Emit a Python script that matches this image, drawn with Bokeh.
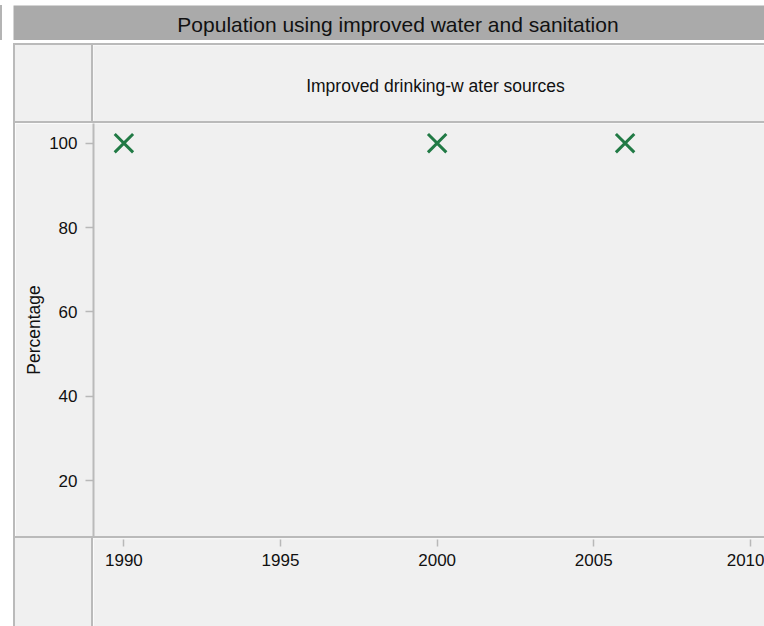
from bokeh.plotting import figure
from bokeh.layouts import column, row
from bokeh.models import Div, Spacer, FixedTicker, Range1d
from bokeh.core.properties import value
from bokeh.embed import file_html
from bokeh.resources import INLINE

main_title = "Population using improved water and sanitation"
panel_title = "Improved drinking-w ater sources"
y_label = "Percentage"
years = [1990, 2000, 2006]
values = [100, 100, 100]
x_ticks = [1990, 1995, 2000, 2005, 2010]
y_ticks = [20, 40, 60, 80, 100]

FONT = "Liberation Sans"
LINE = "#bababa"
PANEL = "#f0f0f0"
BAR = "#aaaaaa"
INK = "#111111"

x_range = Range1d(1989.03, 2010.45)


def block(w, h, color):
    return Div(text="", width=w, height=h, margin=0,
               styles={"background-color": color})


def text_fig(w, h, bg, txt, tx, ty, size):
    f = figure(width=w, height=h, output_backend="svg", toolbar_location=None,
               x_range=Range1d(0, w), y_range=Range1d(h, 0),
               x_axis_location=None, y_axis_location=None,
               min_border=0, margin=0)
    f.outline_line_color = None
    f.background_fill_color = bg
    f.border_fill_color = bg
    f.grid.visible = False
    f.text(x=[tx], y=[ty], text=[txt], text_align="center",
           text_baseline="middle", text_font=value(FONT),
           text_font_size=size, text_color=INK)
    return f


# title bar and sub-title strip
ft = text_fig(751, 35, BAR, main_title, 384.5, 18.5, "21px")
fs = text_fig(671, 76, PANEL, panel_title, 342, 40, "17.5px")

# main plot
fm = figure(width=749, height=413, output_backend="svg", toolbar_location=None,
            x_range=x_range, y_range=Range1d(6.72, 104.67),
            x_axis_location=None, min_border_left=78, min_border_right=0,
            min_border_top=0, min_border_bottom=0, margin=0)
fm.outline_line_color = None
fm.background_fill_color = PANEL
fm.border_fill_color = PANEL
fm.grid.visible = False
fm.scatter(years, values, marker="x", size=26, line_color="#217a45",
           line_width=3)

ya = fm.yaxis[0]
ya.ticker = FixedTicker(ticks=y_ticks)
ya.axis_line_color = LINE
ya.axis_line_width = 2
ya.axis_label = y_label
ya.axis_label_text_font = FONT
ya.axis_label_text_font_size = "17.5px"
ya.axis_label_text_font_style = "normal"
ya.axis_label_text_color = INK
ya.axis_label_standoff = 2

# x-axis strip
fx = figure(width=671, height=88, output_backend="svg", toolbar_location=None,
            x_range=x_range, y_range=Range1d(0, 1), y_axis_location=None,
            min_border_left=0, min_border_right=0, min_border_top=0,
            min_border_bottom=87, margin=0)
fx.outline_line_color = None
fx.background_fill_color = PANEL
fx.border_fill_color = PANEL
fx.grid.visible = False
xa = fx.xaxis[0]
xa.ticker = FixedTicker(ticks=x_ticks)
xa.axis_line_color = None

for ax in (xa, ya):
    ax.major_tick_line_color = "#b8b8b8"
    ax.major_tick_line_width = 1.5
    ax.major_tick_out = 7
    ax.major_tick_in = 0
    ax.minor_tick_line_color = None
    ax.major_label_text_font = FONT
    ax.major_label_text_font_size = "17px"
    ax.major_label_text_color = INK
ya.major_tick_out = 8
ya.major_label_standoff = 8
xa.major_label_standoff = 7

inner = column(
    row(block(76, 76, PANEL), block(2, 76, LINE), fs, spacing=0),
    block(749, 2, LINE),
    fm,
    block(749, 2, LINE),
    row(block(76, 88, PANEL), block(2, 88, LINE), fx, spacing=0),
    spacing=0,
)

layout = column(
    Spacer(width=764, height=5, margin=0),
    row(block(2, 35, "#b4b4b4"), Spacer(width=11, height=35, margin=0), ft,
        spacing=0),
    Spacer(width=764, height=3, margin=0),
    row(Spacer(width=13, height=2, margin=0), block(751, 2, LINE), spacing=0),
    row(Spacer(width=13, height=581, margin=0), block(2, 581, LINE), inner,
        spacing=0),
    spacing=0,
)

open("out.html", "w").write(file_html(layout, INLINE))
